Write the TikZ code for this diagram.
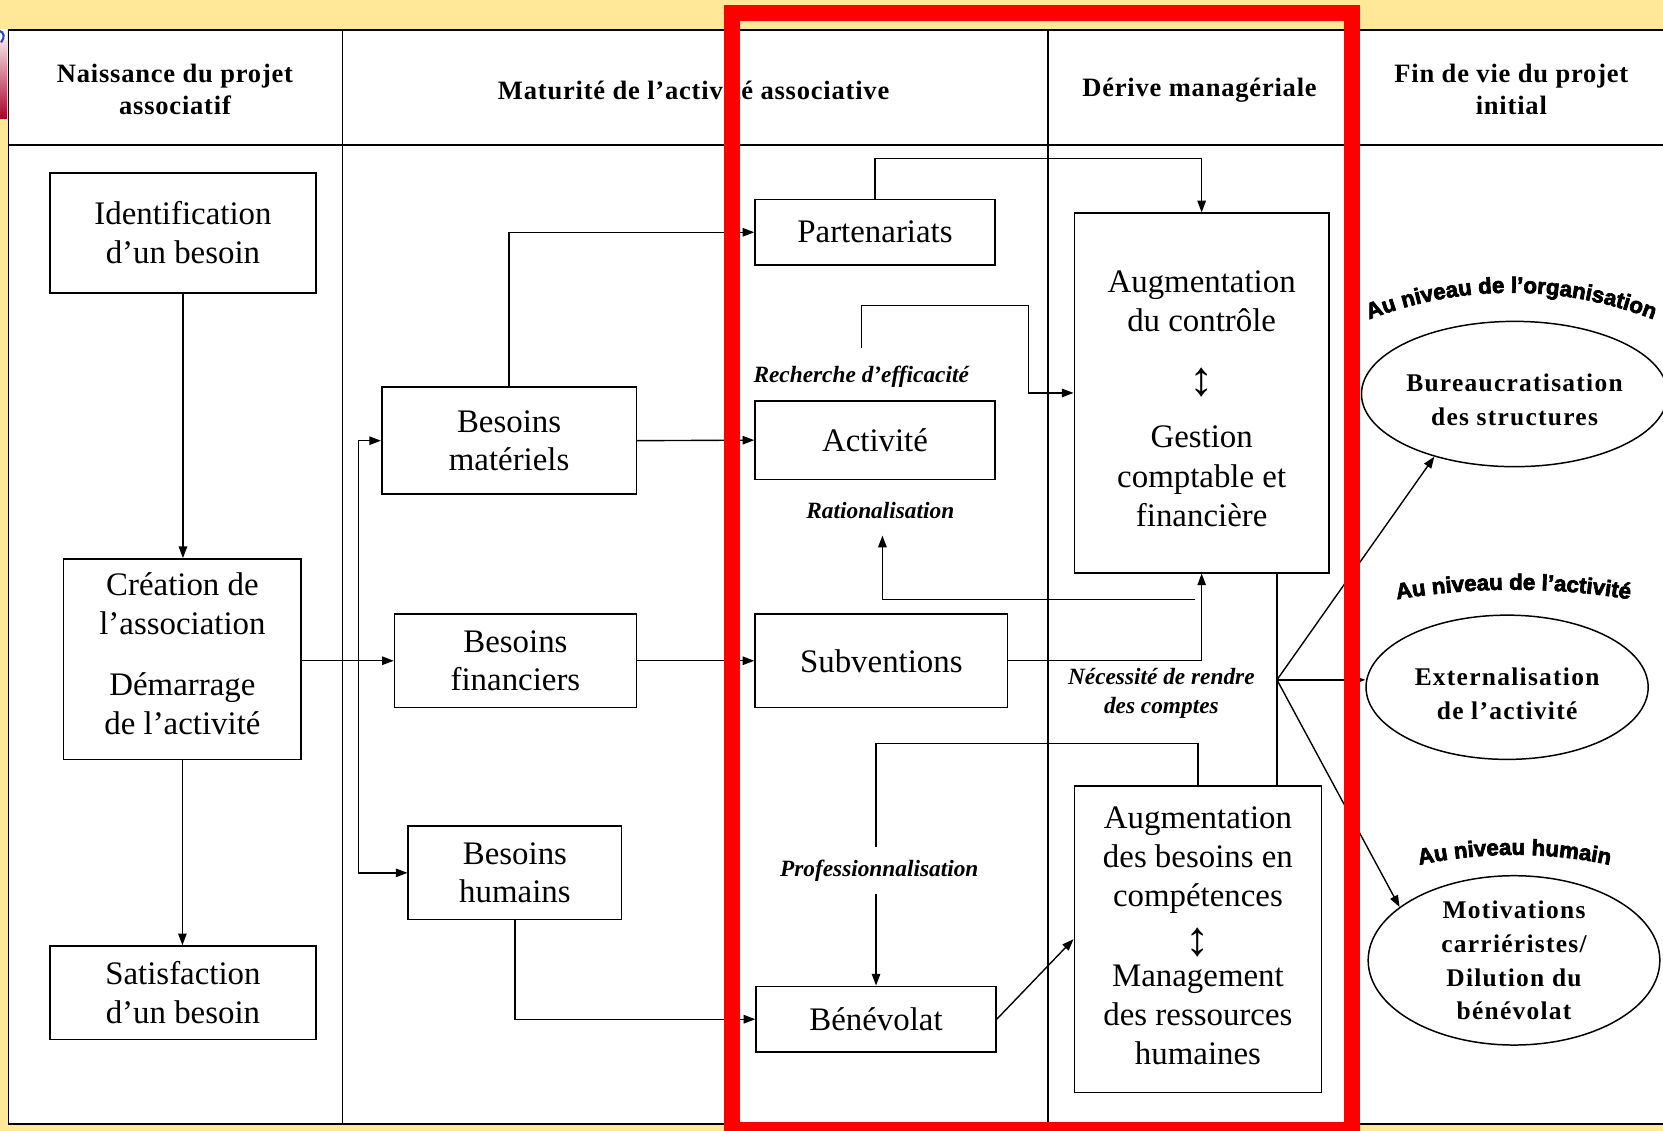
\documentclass[tikz,border=0pt]{standalone}
\usepackage{fontspec}
\setmainfont{Liberation Serif}
\newfontfamily\wafont{Liberation Sans Bold}[FakeBold=3]
\usetikzlibrary{arrows.meta,decorations.text,shapes.geometric,calc}
\definecolor{bgyellow}{RGB}{255,233,153}
\definecolor{framered}{RGB}{255,0,0}
\definecolor{logored}{RGB}{170,0,40}
\definecolor{logoblue}{RGB}{40,70,200}
\newcommand{\updn}{\smash{\fontsize{46}{37}\selectfont ↕}}
\begin{document}
\begin{tikzpicture}[x=1pt,y=-1pt,
  box/.style={draw, line width=1.6pt, inner sep=0pt, align=center, font=\fontsize{31}{36.5}\selectfont},
  ell/.style={ellipse, draw, line width=1.4pt, inner sep=0pt, align=center, font=\bfseries\fontsize{24}{32}\selectfont\addfontfeatures{LetterSpace=5}},
  hdr/.style={align=center, inner sep=0pt, font=\bfseries\fontsize{25}{30}\selectfont\addfontfeatures{LetterSpace=3}},
  lbl/.style={align=center, inner sep=1pt, font=\bfseries\itshape\fontsize{22}{27}\selectfont},
  arr/.style={line width=1.3pt, -{Triangle[length=11pt,width=8pt]}},
  ln/.style={line width=1.3pt},
  tbl/.style={line width=1.8pt},
  wa/.style={decorate, decoration={text along path, text align=center, text={|\wafont\fontsize{21}{21}\selectfont|#1}}}
]
\useasboundingbox (0,0) rectangle (1568,1066);
\clip (0,0) rectangle (1568,1066);
% background
\fill[bgyellow] (0,0) rectangle (1568,1066);
% logo fragment
\shade[top color={rgb,255:red,245;green,225;blue,230}, bottom color=logored] (0,38) rectangle (6.5,112);
\fill[white] (0,27) rectangle (6.5,38);
\draw[logoblue, line width=2pt] (-1,29) .. controls (4,30) and (5,35) .. (1,40);
% table
\draw[tbl, fill=white] (8,28) rectangle (1600,1060);
\draw[tbl] (8,137) -- (1600,137);
\draw[ln] (323,28) -- (323,1060);
\draw[ln] (988,28) -- (988,1060);
\draw[ln] (1275,28) -- (1275,1060);
% headers
\node[hdr] (h1) at (165,84) {Naissance du projet\\associatif};
\node[hdr] (h2) at (654,85) {Maturité de l’activité associative};
\node[hdr] (h3) at (1131,85) {Dérive managériale};
\node[hdr] (h4) at (1425,84) {Fin de vie du projet\\initial};
% boxes
\node[box, minimum width=251pt, minimum height=113pt] (ident) at (172.5,219.5) {Identification\\d’un besoin};
\node[box, text depth=11pt, minimum width=224pt, minimum height=189pt] (creat) at (172,621.5) {Création de\\l’association\\[21.5pt]Démarrage\\de l’activité};
\node[box, minimum width=251pt, minimum height=88pt] (satis) at (172.5,936) {Satisfaction\\d’un besoin};
\node[box, minimum width=240pt, minimum height=101pt] (mat) at (480,415.5) {Besoins\\matériels};
\node[box, minimum width=228pt, minimum height=88pt] (fin) at (486,623) {Besoins\\financiers};
\node[box, minimum width=201pt, minimum height=88pt] (hum) at (485.5,823) {Besoins\\humains};
\node[box, minimum width=226pt, minimum height=62pt] (part) at (825,219) {Partenariats};
\node[box, minimum width=226pt, minimum height=74pt] (act) at (825,415) {Activité};
\node[box, minimum width=238pt, minimum height=88pt] (sub) at (831,623) {Subventions};
\node[box, minimum width=226pt, minimum height=62pt] (ben) at (826,961) {Bénévolat};
\node[box, font=\fontsize{31}{37}\selectfont, text height=252pt, minimum width=240pt, minimum height=339pt] (ctrl) at (1133,370.5) {Augmentation\\du contrôle\\[24pt]\updn\\[12pt]Gestion\\comptable et\\financière};
\node[box, font=\fontsize{31}{37}\selectfont, text depth=7pt, minimum width=233pt, minimum height=289pt] (comp) at (1129.5,885.5) {Augmentation\\des besoins en\\compétences\\[9pt]\updn\\[-8pt]Management\\des ressources\\humaines};
% ellipses
\node[ell, text height=60pt, minimum width=278pt, minimum height=137pt] (e1) at (1428,371.5) {Bureaucratisation\\des structures};
\node[ell, text height=61pt, minimum width=266pt, minimum height=136pt] (e2) at (1421,648) {Externalisation\\de l’activité};
\node[ell, minimum width=275pt, minimum height=145pt] (e3) at (1427.5,905.5) {Motivations\\carriéristes/\\Dilution du\\bénévolat};
% labels
\node[lbl] (reff) at (812,355) {Recherche d’efficacité};
\node[lbl] (rat) at (830,481) {Rationalisation};
\node[lbl] (nec) at (1095,654) {Nécessité de rendre\\des comptes};
% connectors
\draw[arr] (ident.south) -- (ident.south |- creat.north);
\draw[arr] (creat.south) -- (creat.south |- satis.north);
\draw[arr] (creat.east |- fin.west) -- (fin.west);
\coordinate (br) at (338,623);
\draw[arr] (br) |- (mat.west);
\draw[arr] (br) |- (hum.west);
\draw[arr] (mat.north) |- (part.west);
\draw[arr] (mat.east) -- (act.west);
\draw[arr] (fin.east) -- (sub.west);
\draw[arr] (hum.south) |- (ben.west);
\draw[arr] (part.north) -- ++(0,-38) -| (ctrl.north);
\coordinate (c1) at (812,328);
\draw[arr] (c1) |- (970,288) |- (ctrl.west);
\draw[arr] (sub.east) -| (ctrl.south);
\coordinate (c2) at (1127,565);
\coordinate (c3) at (832,505);
\draw[arr] (c2) -| (c3);
\draw[arr] (comp.north) -- ++(0,-39) -| (ben.north);
\node[lbl, fill=white, inner ysep=12pt] (prof) at (829,821) {Professionnalisation};
\draw[arr] (ben.east) -- (comp.west);
\coordinate (jn) at (1204,641);
\draw[ln] (jn |- ctrl.south) -- (jn |- comp.north);
\draw[arr] (jn) -- (e1.218);
\draw[arr] (jn) -- (jn -| e2.west);
\draw[arr] (jn) -- (e3.155);
% word art
\path[wa={Au niveau de l’organisation}] (1289,302) arc[start angle=-111.64, end angle=-68.36, radius=368.7];
\path[wa={Au niveau de l’activité}] (1312,566) arc[start angle=-99.94, end angle=-80.06, radius=666];
\path[wa={Au niveau humain}] (1336,816) arc[start angle=-102.41, end angle=-77.59, radius=428.2];
% red frame
\draw[framered, line width=15pt] (690.5,12.5) rectangle (1274.5,1065.5);
\end{tikzpicture}
\end{document}
